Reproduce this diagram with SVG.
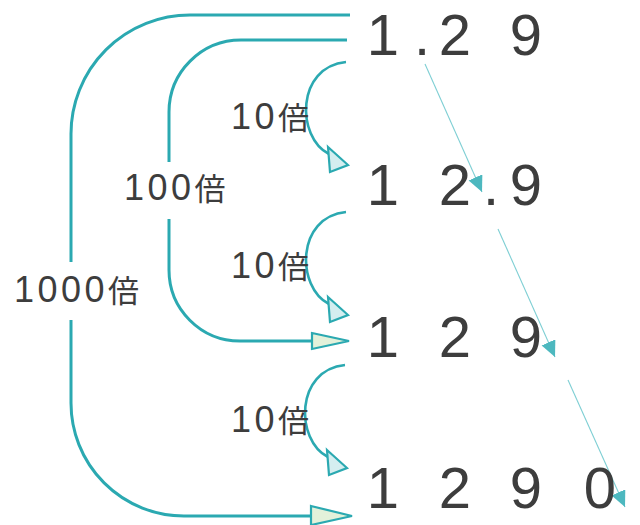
<svg xmlns="http://www.w3.org/2000/svg" width="640" height="525" viewBox="0 0 640 525">
<style>
.big{fill:none;stroke:#2ba9b1;stroke-width:3}
.ten{fill:none;stroke:#2ba9b1;stroke-width:2.6}
.headB{fill:#e3f1da;stroke:#2ba9b1;stroke-width:2.2;stroke-linejoin:miter}
.headT{fill:#d5eef0;stroke:#2ba9b1;stroke-width:2.2;stroke-linejoin:miter}
.dotline{fill:none;stroke:#7fcfd4;stroke-width:1.1}
.num{font-family:"Liberation Sans","Noto Sans",sans-serif;font-size:58px;fill:#3d3d3d;text-anchor:middle}
.lbl{font-family:"Liberation Sans","Noto Sans CJK JP",sans-serif;font-size:36px;fill:#3d3d3d;letter-spacing:3.5px}
.kanji{font-family:"Noto Sans CJK JP",sans-serif;font-size:31px;letter-spacing:0}
</style>
<defs>
<marker id="tri" markerUnits="userSpaceOnUse" markerWidth="17" markerHeight="16" refX="16" refY="7.5" orient="auto" viewBox="0 0 17 16">
<path d="M0,0 L16,7.5 L0,15 z" fill="#4db8bf"/>
</marker>
</defs>
<g id="connectors">
<path class="big" d="M350,15 H190 A119,119 0 0 0 71,134 V262 M71,320 V403 A113,113 0 0 0 184,516 H311"/>
<polygon class="headB" points="311,506 352,516 311,525"/>
<path class="big" d="M347,40 H241 A72,72 0 0 0 169,112 V162 M169,219 V270 A71,71 0 0 0 240,341 H312"/>
<polygon class="headB" points="312,333 349,341 312,349"/>
<path class="ten" d="M346,62 C296,67 296,137 329,154"/>
<polygon class="headT" points="328,147 348,165 330,172"/>
<path class="ten" d="M346,212 C296,217 296,287 329,304"/>
<polygon class="headT" points="328,297 348,315 330,322"/>
<path class="ten" d="M345,365 C295,370 295,440 328,457"/>
<polygon class="headT" points="327,450 347,468 329,475"/>
<line class="dotline" x1="425" y1="64" x2="482" y2="192" marker-end="url(#tri)"/>
<line class="dotline" x1="498" y1="229" x2="555" y2="357" marker-end="url(#tri)"/>
<line class="dotline" x1="568" y1="380" x2="625" y2="507" marker-end="url(#tri)"/>
</g>
<g id="row1">
<text class="num" x="383" y="55">1</text><text class="num" x="422" y="55">.</text><text class="num" x="455" y="55">2</text><text class="num" x="526" y="55">9</text>
</g>
<g id="row2">
<text class="num" x="383" y="205">1</text><text class="num" x="455" y="205">2</text><text class="num" x="491" y="205">.</text><text class="num" x="526" y="205">9</text>
</g>
<g id="row3">
<text class="num" x="383" y="357">1</text><text class="num" x="455" y="357">2</text><text class="num" x="526" y="357">9</text>
</g>
<g id="row4">
<text class="num" x="383" y="508">1</text><text class="num" x="455" y="508">2</text><text class="num" x="526" y="508">9</text><text class="num" x="600" y="508">0</text>
</g>
<g id="label-10a"><text class="lbl" x="231" y="129">10<tspan class="kanji">倍</tspan></text></g>
<g id="label-10b"><text class="lbl" x="231" y="278">10<tspan class="kanji">倍</tspan></text></g>
<g id="label-10c"><text class="lbl" x="231" y="432">10<tspan class="kanji">倍</tspan></text></g>
<g id="label-100"><text class="lbl" x="124" y="200">100<tspan class="kanji">倍</tspan></text></g>
<g id="label-1000"><text class="lbl" x="14" y="302">1000<tspan class="kanji">倍</tspan></text></g>
</svg>
